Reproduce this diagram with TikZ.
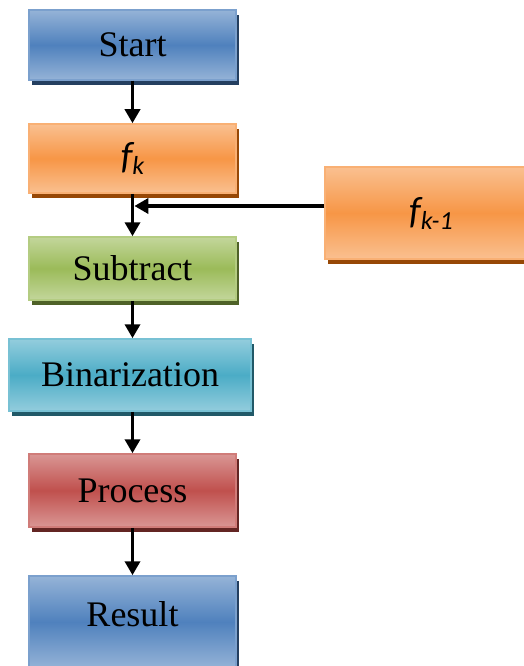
\documentclass[tikz,border=0pt]{standalone}
\usepackage{fontspec}
\setmainfont{Liberation Serif}
\newfontfamily\calibri{Carlito}
\usetikzlibrary{arrows.meta,shadows}
\definecolor{bluemid}{HTML}{4F81BD}\definecolor{bluelight}{HTML}{95B3D7}\definecolor{blueshadow}{HTML}{243F60}
\definecolor{orangemid}{HTML}{F79646}\definecolor{orangelight}{HTML}{FAC090}\definecolor{orangeshadow}{HTML}{974806}
\definecolor{greenmid}{HTML}{9BBB59}\definecolor{greenlight}{HTML}{C3D69B}\definecolor{greenshadow}{HTML}{4F6228}
\definecolor{aquamid}{HTML}{4BACC6}\definecolor{aqualight}{HTML}{93CDDD}\definecolor{aquashadow}{HTML}{215968}
\definecolor{redmid}{HTML}{C0504D}\definecolor{redlight}{HTML}{D99694}\definecolor{redshadow}{HTML}{632523}
\newcommand{\fsub}[1]{{\calibri\itshape\fontsize{38}{38}\selectfont f\raisebox{-6pt}{\fontsize{26}{26}\selectfont #1}}}
\tikzset{
  stepbox/.style={rectangle, draw=#1mid!75!white, line width=1.5pt, top color=#1light, bottom color=#1light, middle color=#1mid,
    drop shadow={shadow xshift=3pt, shadow yshift=-5pt, fill=#1shadow, opacity=1}, minimum width=207pt, inner sep=0pt,
    font=\fontsize{36}{36}\selectfont},
  flow/.style={line width=3.8pt, -{Triangle[width=15pt,length=14pt]}}
}

\begin{document}
\begin{tikzpicture}[x=1pt,y=-1pt]
        \useasboundingbox (0,0) rectangle (523,666);
        \node[stepbox=blue, minimum height=70pt] (start) at (132.5,45) {Start};
        \node[stepbox=orange, minimum height=69pt] (fk) at (132.5,158.5) {\fsub{k}};
        \node[stepbox=orange, minimum height=92pt, minimum width=212pt] (fkm1) at (431,213) {\fsub{k-1}};
        \node[stepbox=green, minimum height=63pt] (sub) at (132.5,268.5) {Subtract};
        \node[stepbox=aqua, minimum height=72pt, minimum width=242pt] (bin) at (130,375) {Binarization};
        \node[stepbox=red, minimum height=73pt] (proc) at (132.5,490.5) {Process};
        \node[stepbox=blue, minimum height=92pt] (res) at (132.5,622) {\raisebox{16pt}{Result}};
        \coordinate (join) at (fk.south |- 0,206);

        \draw[flow] (start) -- (fk); \draw[flow] (fk) -- (sub); \draw[flow] (sub.south) -- (sub.south |- bin.north);
        \draw[flow] (sub.south |- bin.south) -- (sub.south |- proc.north); \draw[flow] (proc) -- (res);
        \draw[flow, shorten >=1.9pt] (fkm1.west |- join) -- (join);
    \end{tikzpicture}
\end{document}
